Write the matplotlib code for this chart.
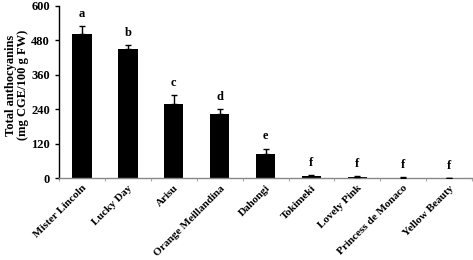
import matplotlib
matplotlib.use("Agg")
import matplotlib.pyplot as plt
import numpy as np

categories = ["Mister Lincoln", "Lucky Day", "Arisu", "Orange Meillandina", "Dahongi",
              "Tokimeki", "Lovely Pink", "Princess de Monaco", "Yellow Beauty"]
values = [502, 450, 259, 224, 85, 8, 5, 2, 0.5]
errors = [28, 13, 29, 16, 18, 2, 1, 1, 0]
letters = ["a", "b", "c", "d", "e", "f", "f", "f", "f"]
yticks = [0, 120, 240, 360, 480, 600]

plt.rcParams['font.family'] = ['Liberation Serif', 'DejaVu Serif']
plt.rcParams['font.weight'] = 'bold'

fig = plt.figure(figsize=(4.73, 2.6), dpi=100)
ax = fig.add_axes([0.125, 0.315, 0.873, 0.662])

x = np.arange(len(categories))
ax.bar(x, values, width=0.42, color='black', zorder=2)
ax.errorbar(x, values, yerr=[np.zeros(len(errors)), errors], fmt='none',
            ecolor='black', elinewidth=1, capsize=2.5, capthick=1, zorder=3)

for xi, v, e, l in zip(x, values, errors, letters):
    ax.text(xi, v + e + 22, l, ha='center', va='bottom', fontsize=9, fontweight='bold')

ax.set_xlim(-0.5, len(categories) - 0.5)
ax.set_ylim(0, 600)
ax.set_yticks(yticks)
ax.set_yticklabels([str(t) for t in yticks], fontsize=9, fontweight='bold')
ax.set_xticks(x)
ax.set_xticklabels(categories, rotation=45, ha='right', rotation_mode='anchor',
                   fontsize=8, fontweight='bold')
ax.set_xticks(np.arange(len(categories) + 1) - 0.5, minor=True)
ax.tick_params(axis='x', which='major', length=0, pad=4)
ax.tick_params(axis='x', which='minor', length=2, color='#aaaaaa', width=0.8)
ax.tick_params(axis='y', direction='out', length=3, width=1, pad=3.5)

ax.spines['top'].set_visible(False)
ax.spines['right'].set_visible(False)
ax.spines['left'].set_color('black')
ax.spines['bottom'].set_color('#888888')
ax.spines['left'].set_linewidth(1)
ax.spines['bottom'].set_linewidth(1)

ax.set_ylabel("Total anthocyanins\n(mg CGE/100 g FW)", fontsize=9, fontweight='bold',
              linespacing=1.0)
ax.yaxis.set_label_coords(-0.073, 0.54)

fig.savefig("out.png", dpi=100)
